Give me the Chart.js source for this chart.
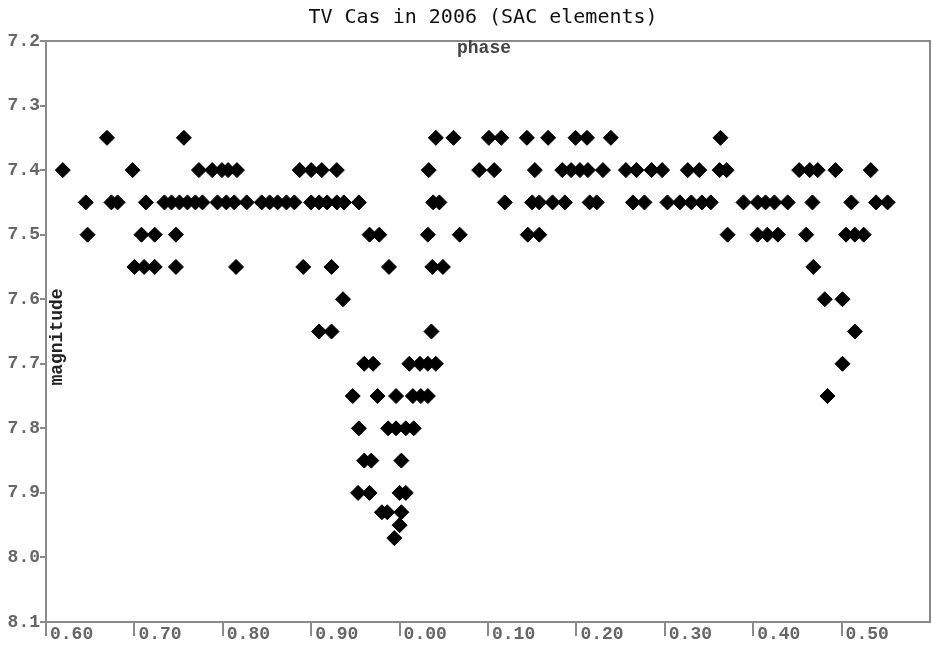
<!DOCTYPE html>
<html>
<head>
<meta charset="utf-8">
<title>TV Cas in 2006 (SAC elements)</title>
<script src="https://cdn.jsdelivr.net/npm/chart.js@4.4.1/dist/chart.umd.min.js"></script>
<style>
  html, body { margin: 0; padding: 0; background: #fff; }
  #wrap { width: 933px; height: 646px; }
</style>
</head>
<body>
<div id="wrap"><canvas id="lightCurve" width="933" height="646"></canvas></div>
<script>
// ─── Axis ticks ──────────────────────────────────────────────────────────────
// phase runs 0.60 → 1.60 so the primary eclipse sits in the middle
const PHASE_TICKS = [0.6, 0.7, 0.8, 0.9, 1.0, 1.1, 1.2, 1.3, 1.4, 1.5];
const MAG_TICKS   = [7.2, 7.3, 7.4, 7.5, 7.6, 7.7, 7.8, 7.9, 8.0, 8.1];

// ─── Observations: phases grouped by estimated magnitude ─────────────────────
const PH_735 = [0.669, 0.756, 0.041, 0.061, 0.101, 0.115, 0.144, 0.168, 0.199, 0.212, 0.239, 0.363];
const PH_740 = [0.619, 0.698, 0.773, 0.788, 0.799, 0.806, 0.816, 0.887, 0.900, 0.912, 0.929,
                0.033, 0.090, 0.107, 0.153, 0.184, 0.194, 0.204, 0.213, 0.230, 0.256, 0.268,
                0.285, 0.297, 0.326, 0.339, 0.362, 0.370, 0.452, 0.464, 0.473, 0.493, 0.533];
const PH_745 = [0.645, 0.674, 0.681, 0.713, 0.734, 0.742, 0.751, 0.760, 0.769, 0.777, 0.794,
                0.804, 0.813, 0.827, 0.844, 0.853, 0.862, 0.872, 0.881, 0.900, 0.909, 0.918,
                0.929, 0.937, 0.954, 0.038, 0.045, 0.119, 0.150, 0.158, 0.173, 0.187, 0.215,
                0.223, 0.264, 0.277, 0.303, 0.317, 0.330, 0.342, 0.352, 0.389, 0.405, 0.414,
                0.424, 0.439, 0.467, 0.511, 0.539, 0.552];
const PH_750 = [0.647, 0.708, 0.723, 0.747, 0.966, 0.977, 0.032, 0.068, 0.145, 0.158, 0.371,
                0.405, 0.416, 0.428, 0.460, 0.505, 0.515, 0.525];
const PH_755 = [0.700, 0.711, 0.723, 0.747, 0.815, 0.891, 0.923, 0.988, 0.037, 0.049, 0.468];
const PH_760 = [0.936, 0.481, 0.501];
const PH_765 = [0.909, 0.923, 0.036, 0.515];
const PH_770 = [0.960, 0.970, 0.011, 0.023, 0.032, 0.041, 0.501];
const PH_775 = [0.947, 0.975, 0.996, 0.015, 0.024, 0.032, 0.484];
const PH_780 = [0.954, 0.987, 0.996, 0.007, 0.016];
const PH_785 = [0.960, 0.968, 0.002];
const PH_790 = [0.953, 0.966, 0.000, 0.007];
const PH_793 = [0.980, 0.986, 0.002];
const PH_795 = [0.000];
const PH_797 = [0.994];

const MAG_LEVELS = [7.35, 7.40, 7.45, 7.50, 7.55, 7.60, 7.65, 7.70, 7.75, 7.80, 7.85, 7.90, 7.93, 7.95, 7.97];
const PHASE_ROWS = [PH_735, PH_740, PH_745, PH_750, PH_755, PH_760, PH_765, PH_770,
                    PH_775, PH_780, PH_785, PH_790, PH_793, PH_795, PH_797];

// wrap phases below 0.6 into the second half of the plot
const points = [];
MAG_LEVELS.forEach((mag, i) => {
  PHASE_ROWS[i].forEach(p => points.push({ x: p < 0.6 ? p + 1 : p, y: mag }));
});

const AXIS_GREY  = '#8a8a8a';
const LABEL_GREY = '#666';
const MONO_BOLD  = { family: '"Liberation Mono", "DejaVu Sans Mono", monospace', size: 18, weight: 'bold' };

// ─── Frame, title and in-plot axis names ─────────────────────────────────────
const framePlugin = {
  id: 'frame',
  afterDraw(chart) {
    const { ctx, chartArea: a } = chart;
    ctx.save();
    ctx.strokeStyle = AXIS_GREY;
    ctx.lineWidth = 2;
    ctx.strokeRect(a.left, a.top, a.right - a.left, a.bottom - a.top);

    ctx.fillStyle = '#111';
    ctx.font = '20px "DejaVu Sans Mono", monospace';
    ctx.textAlign = 'center';
    ctx.textBaseline = 'middle';
    ctx.fillText('TV Cas in 2006 (SAC elements)', 483, 18);

    ctx.fillStyle = '#444';
    ctx.font = 'bold 18px "Liberation Mono", monospace';
    ctx.textBaseline = 'alphabetic';
    ctx.fillText('phase', 484, 53);

    ctx.translate(62, 337);
    ctx.rotate(-Math.PI / 2);
    ctx.fillStyle = '#222';
    ctx.fillText('magnitude', 0, 0);
    ctx.restore();
  }
};

new Chart(document.getElementById('lightCurve'), {
  type: 'scatter',
  data: {
    datasets: [{
      data: points,
      pointStyle: 'rectRot',
      pointRadius: 7.5,
      pointHoverRadius: 7.5,
      backgroundColor: '#000',
      borderColor: '#000',
      borderWidth: 1
    }]
  },
  options: {
    responsive: false,
    animation: false,
    devicePixelRatio: 1,
    // no auto padding, otherwise the marker radius eats into the right edge
    layout: { autoPadding: false, padding: { top: 41, right: 3, left: 0, bottom: 0 } },
    plugins: {
      legend: { display: false },
      tooltip: { enabled: false },
      title: { display: false }
    },
    scales: {
      x: {
        type: 'linear',
        position: 'bottom',
        min: 0.6,
        max: 1.6,
        afterBuildTicks(scale) { scale.ticks = PHASE_TICKS.map(v => ({ value: v })); },
        afterFit(scale) {
          scale.height = 24;
          scale.paddingLeft = 0;
          scale.paddingRight = 0;
        },
        border: { display: true, color: AXIS_GREY, width: 2 },
        grid: { drawOnChartArea: false, drawTicks: true, tickLength: 14, color: AXIS_GREY, lineWidth: 2 },
        ticks: {
          align: 'start',
          labelOffset: 4,
          padding: -12,
          maxRotation: 0,
          autoSkip: false,
          color: LABEL_GREY,
          font: MONO_BOLD,
          callback(v) { return (Math.round(v * 100) % 100 / 100).toFixed(2); }
        }
      },
      y: {
        type: 'linear',
        reverse: true,
        min: 7.2,
        max: 8.1,
        afterBuildTicks(scale) { scale.ticks = MAG_TICKS.map(v => ({ value: v })); },
        afterFit(scale) {
          scale.width = 46;
          scale.paddingTop = 0;
          scale.paddingBottom = 0;
        },
        border: { display: true, color: AXIS_GREY, width: 2 },
        grid: { drawOnChartArea: false, drawTicks: true, tickLength: 6, color: AXIS_GREY, lineWidth: 2 },
        ticks: {
          padding: 0,
          autoSkip: false,
          color: LABEL_GREY,
          font: MONO_BOLD,
          callback(v) { return v.toFixed(1); }
        }
      }
    }
  },
  plugins: [framePlugin]
});
</script>
</body>
</html>
